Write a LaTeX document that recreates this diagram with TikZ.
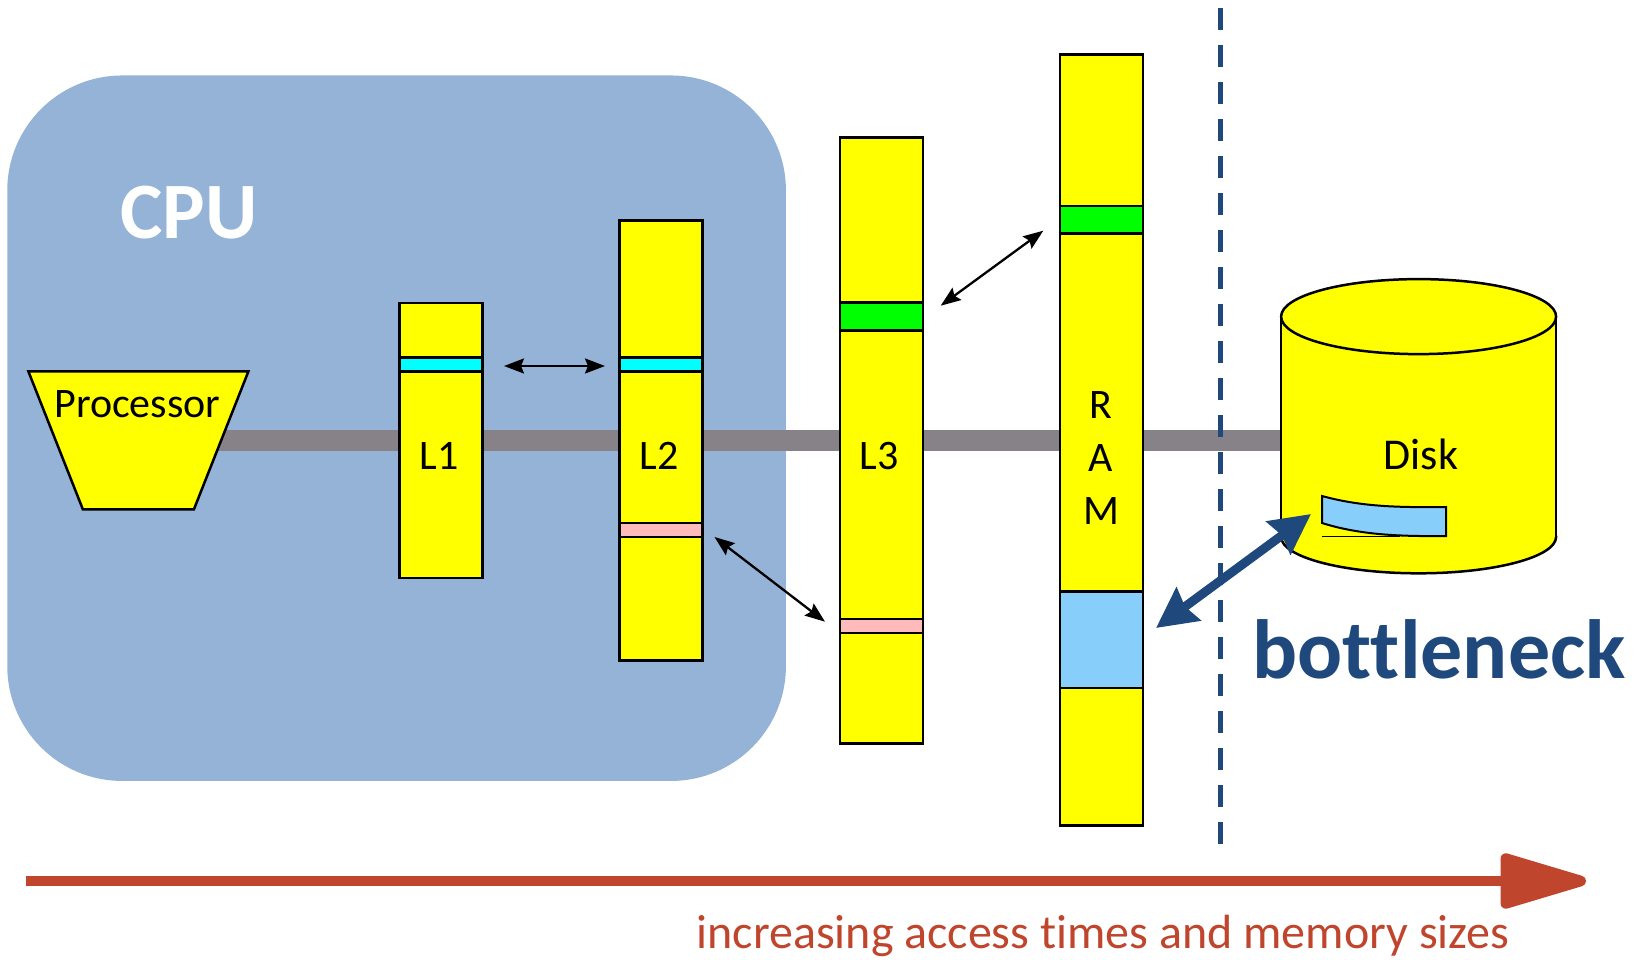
\documentclass[tikz,border=0pt]{standalone}
\usepackage{fontspec}
\setmainfont{Carlito}[Ligatures={NoCommon,NoContextual,NoRare}, Contextuals={NoAlternate}]
\usetikzlibrary{arrows.meta,shapes.geometric,backgrounds}
\definecolor{cpublue}{RGB}{149,179,215}
\definecolor{ylw}{RGB}{255,255,0}
\definecolor{cyanband}{RGB}{0,255,255}
\definecolor{greenband}{RGB}{0,255,0}
\definecolor{pinkband}{RGB}{255,187,187}
\definecolor{skyband}{RGB}{135,206,250}
\definecolor{busgray}{RGB}{135,130,135}
\definecolor{navy}{RGB}{31,73,125}
\definecolor{rust}{RGB}{192,69,45}
\begin{document}
\begin{tikzpicture}[x=1pt,y=-1pt,
  bar/.style={draw=black, fill=ylw, line width=2.5pt, minimum width=83pt, inner sep=0pt, outer sep=0pt},
  band/.style={draw=black, line width=2.5pt, minimum width=83pt, inner sep=0pt, outer sep=0pt},
  lbl/.style={font=\fontsize{42}{52}\selectfont, inner sep=0pt},
  link/.style={line width=2.3pt, {Stealth[length=20pt,width=15pt,inset=3pt]}-{Stealth[length=20pt,width=15pt,inset=3pt]}},
  biglink/.style={navy, line width=9pt, {Stealth[length=40pt,width=40pt,inset=4pt]}-{Stealth[length=40pt,width=40pt,inset=4pt]}},
]
\useasboundingbox (0,0) rectangle (1644,959);

% processor (trapezoid) and memory bars
\node[minimum width=220pt, minimum height=138pt, inner sep=0pt, outer sep=0pt] (proc) at (138.4,440.4) {};
\filldraw[fill=ylw, draw=black, line width=2.5pt]
  (proc.north west) -- (proc.north east) -- ([xshift=-54.5pt]proc.south east)
  -- ([xshift=54.5pt]proc.south west) -- cycle;
\node[lbl] (proctext) at (137.4,404) {Processor};

\node[bar, minimum height=274.7pt] (L1) at (441,440.4) {};
\node[bar, minimum height=440.3pt] (L2) at (661,440.4) {};
\node[bar, minimum height=606pt] (L3) at (881.3,440.4) {};
\node[bar, minimum height=770.7pt] (RAM) at (1101.7,439.9) {};

\node[band, fill=cyanband, minimum height=13.7pt] (L1c) at (441,364.4) {};
\node[band, fill=cyanband, minimum height=13.7pt] (L2c) at (661,364.4) {};
\node[band, fill=pinkband, minimum height=13.6pt] (L2p) at (661,530) {};
\node[band, fill=greenband, minimum height=28pt] (L3g) at (881.3,316.5) {};
\node[band, fill=pinkband, minimum height=14pt] (L3p) at (881.3,626) {};
\node[band, fill=greenband, minimum height=27.5pt] (RAMg) at (1101.7,219.7) {};
\node[band, fill=skyband, minimum height=96.5pt] (RAMb) at (1101.7,639.7) {};

\node[lbl] (L1t) at (439,456) {L1};
\node[lbl] (L2t) at (659,456) {L2};
\node[lbl] (L3t) at (879,456) {L3};
\node[lbl, align=center, font=\fontsize{42}{53}\selectfont] (RAMt) at (1101,458) {R\\A\\M};

% disk
\node[minimum width=275pt, minimum height=294pt, inner sep=0pt] (disk) at (1418.6,426.3) {};
\filldraw[fill=ylw, draw=black, line width=2.5pt] (1418.6,536.8) ellipse [x radius=137.5, y radius=36.5];
\fill[ylw] (1281.1,316.6) rectangle (1556.1,536.8);
\draw[line width=2.5pt] (1281.1,316.6) -- (1281.1,536.8) (1556.1,316.6) -- (1556.1,536.8);
\filldraw[fill=ylw, draw=black, line width=2.5pt] (1418.6,316.6) ellipse [x radius=137.5, y radius=37.5];
\node[lbl, font=\fontsize{44}{52}\selectfont] (disktext) at (1421,454) {Disk};
\filldraw[fill=skyband, draw=black, line width=2pt]
  (1322,496) .. controls (1362,507) and (1400,507.5) .. (1446,507)
  -- (1446,536) .. controls (1400,536.5) and (1360,535) .. (1322,523) -- cycle;
\draw[line width=1.2pt] (1322,536.5) -- (1400,536.5);

% background: CPU box and bus
\begin{scope}[on background layer]
\node[fill=cpublue, rounded corners=115pt, minimum width=778.7pt, minimum height=705.5pt, inner sep=0pt] (cpu) at (396.6,428.2) {};
\draw[busgray, line width=21pt] (proc.center) -- (proc.center -| disk.center);
\end{scope}
\node[text=white, font=\bfseries\fontsize{80}{96}\selectfont, inner sep=0pt] (cputext) at (188.7,212.8) {CPU};

% transfer arrows
\coordinate (a1s) at (504,366);
\coordinate (a1e) at (605,366);
\coordinate (a2s) at (714.5,537);
\coordinate (a2e) at (825,621.7);
\coordinate (a3s) at (940.7,305.7);
\coordinate (a3e) at (1043.3,230.7);
\coordinate (bns) at (1156,628);
\coordinate (bne) at (1311,514);
\draw[link] (a1s) -- (a1e);
\draw[link] (a2s) -- (a2e);
\draw[link] (a3s) -- (a3e);
\draw[biglink] (bns) -- (bne);

\node[text=navy, font=\bfseries\fontsize{84}{100}\selectfont, anchor=base, inner sep=0pt] (bn) at (1439,678) {bottleneck};

% dashed boundary
\coordinate (dtop) at (1220,8);
\coordinate (dbot) at (1220,849);
\draw[navy, line width=5pt, dash pattern=on 22pt off 15pt] (dtop) -- (dbot);

% scale arrow
\coordinate (rs) at (26,881);
\coordinate (re) at (1586,881);
\draw[rust, line width=10.7pt, -{Triangle[length=100pt,width=56pt,round]}] (rs) -- (re);
\node[text=rust, font=\fontsize{48}{58}\selectfont, anchor=base, inner sep=0pt] (caption) at (1103,948) {increasing access times and memory sizes};
\end{tikzpicture}
\end{document}
